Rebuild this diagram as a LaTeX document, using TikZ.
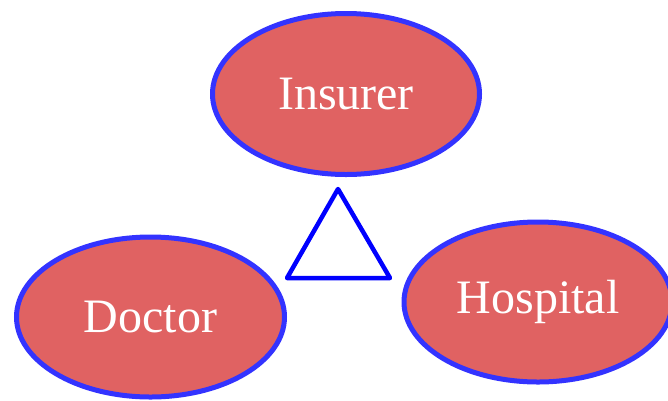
\documentclass[tikz,border=0pt]{standalone}
\usepackage{fontspec}
\setmainfont{Liberation Serif}
\usetikzlibrary{shapes.geometric}
\definecolor{partyred}{HTML}{E06262}
\definecolor{partyblue}{HTML}{3333FF}
\begin{document}
\begin{tikzpicture}[x=1pt,y=-1pt,
party/.style={ellipse,draw=partyblue,fill=partyred,line width=5pt,inner sep=0pt,
text=white,font=\fontsize{48}{56}\selectfont}]
\useasboundingbox(0,0)rectangle(668,400);
%
\node[party,minimum width=267pt,minimum height=161pt](insurer)at(346,94){Insurer};
\node[party,minimum width=268pt,minimum height=160pt](doctor)at(150.5,317){Doctor};
\node[party,minimum width=268pt,minimum height=160pt](hospital)at(538,302){Hospital};
%
\draw[blue,line width=4.5pt,line join=round](338,189)--(287,278)--(390,278)--cycle;
\end{tikzpicture}
\end{document}
